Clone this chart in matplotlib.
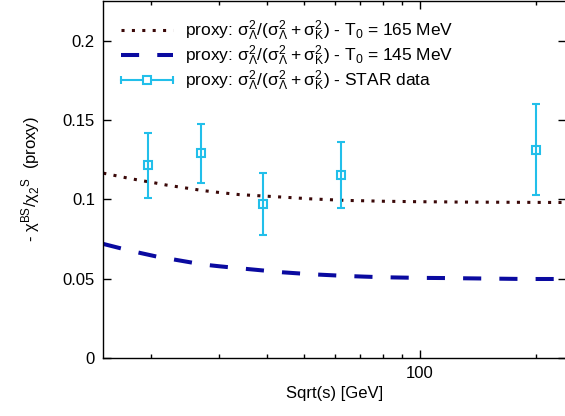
import matplotlib
matplotlib.use("Agg")
import matplotlib.pyplot as plt
from matplotlib.container import ErrorbarContainer
from matplotlib.legend_handler import HandlerBase
from matplotlib.lines import Line2D
from matplotlib.ticker import FixedLocator, FuncFormatter, NullFormatter

plt.rcParams["font.family"] = ["Liberation Sans", "DejaVu Sans"]
plt.rcParams["mathtext.default"] = "regular"
plt.rcParams["font.size"] = 12

# model curves
sqrt_s_model = [15, 17.7, 20.6, 21.9, 27.3, 30.1, 33.8, 41.8, 44, 52, 64.5, 71.5, 80.2, 99.5, 115.6, 124, 188, 240]
proxy_165 = [0.1165, 0.1130, 0.1102, 0.1090, 0.1055, 0.1043, 0.1030, 0.1017, 0.1014, 0.1003, 0.0993, 0.0991, 0.0988, 0.0985, 0.0984, 0.0983, 0.0981, 0.0980]
proxy_145 = [0.0719, 0.0675, 0.0640, 0.0629, 0.0589, 0.0578, 0.0566, 0.0545, 0.0540, 0.0528, 0.0517, 0.0513, 0.0509, 0.0505, 0.0504, 0.0503, 0.0498, 0.0498]

# STAR data
sqrt_s_star = [19.6, 27, 39, 62.4, 200]
proxy_star = [0.1216, 0.1289, 0.0970, 0.1153, 0.1314]
proxy_star_err = [0.0205, 0.0185, 0.0197, 0.0210, 0.0287]

STAR_COLOR = "#22bfea"
label_base = r"proxy: $\sigma^2_\Lambda/(\sigma^2_\Lambda + \sigma^2_K)$ - "


class HorizontalErrorbarHandler(HandlerBase):
    # gnuplot style key: horizontal bar with caps and the point in the middle
    def create_artists(self, legend, orig_handle, xdescent, ydescent, width, height, fontsize, trans):
        y = height / 2 - ydescent
        x0, x1 = -xdescent, width - xdescent
        bar = Line2D([x0, x1], [y, y], color=STAR_COLOR, lw=1.5)
        caps = Line2D([x0, x1], [y, y], ls="none", marker="|", ms=6, mew=1.5, color=STAR_COLOR)
        point = Line2D([(x0 + x1) / 2], [y], ls="none", marker="s", ms=6, mfc="white",
                       mew=1.5, color=STAR_COLOR)
        for a in (bar, caps, point):
            a.set_transform(trans)
        return [bar, caps, point]


fig = plt.figure(figsize=(5.65, 4.16), dpi=100)
ax = fig.add_axes([0.1828, 0.1394, 0.8190, 0.8582])

ax.plot(sqrt_s_model, proxy_165, color="#3a0808", lw=2.2, dashes=(1, 2.4),
        label=label_base + r"T$_0$ = 165 MeV")
ax.plot(sqrt_s_model, proxy_145, color="#0a0aa0", lw=2.9, dashes=(4.5, 4.5),
        label=label_base + r"T$_0$ = 145 MeV")
ax.errorbar(sqrt_s_star, proxy_star, yerr=proxy_star_err, color=STAR_COLOR,
            marker="s", ms=6, mfc="none", mew=1.5, lw=1.5, capsize=3, capthick=1.5,
            ls="none", label=label_base + "STAR data")

ax.set_xscale("log")
ax.set_xlim(15, 240)
ax.set_ylim(0, 0.225)
ax.xaxis.set_major_locator(FixedLocator([100]))
ax.xaxis.set_minor_locator(FixedLocator([20, 30, 40, 50, 60, 70, 80, 90, 200]))
ax.xaxis.set_major_formatter(FuncFormatter(lambda v, p: "%g" % v))
ax.xaxis.set_minor_formatter(NullFormatter())
ax.set_yticks([0, 0.05, 0.1, 0.15, 0.2])
ax.yaxis.set_major_formatter(FuncFormatter(lambda v, p: "%g" % v))
ax.tick_params(which="both", direction="in", top=True, right=True, width=1)
ax.tick_params(which="major", length=5.5, labelsize=12, pad=6)
ax.tick_params(which="minor", length=2.8)
for s in ax.spines.values():
    s.set_linewidth(1.0)

ax.set_xlabel("Sqrt(s) [GeV]", fontsize=12, labelpad=3)
ax.set_ylabel(r"- $\chi^{BS}/\chi_2{}^S$  (proxy)", fontsize=12, labelpad=15)

ax.legend(loc="upper left", frameon=False, fontsize=12.5, handlelength=3.0,
          handletextpad=0.7, labelspacing=0.05, borderaxespad=0.6,
          handler_map={ErrorbarContainer: HorizontalErrorbarHandler()})

plt.savefig("out.png", dpi=100)
plt.close()
